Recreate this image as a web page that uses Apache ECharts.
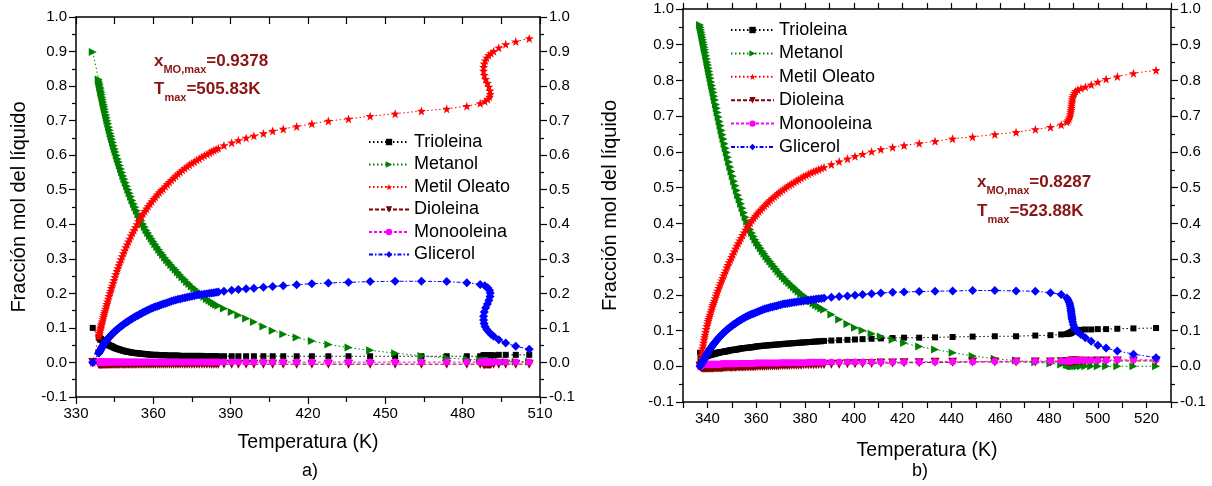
<!DOCTYPE html>
<html>
<head>
<meta charset="utf-8">
<script src="https://cdn.jsdelivr.net/npm/echarts@6/dist/echarts.min.js"></script>
<style>
  html, body { margin: 0; padding: 0; background: #ffffff; }
  #chart { width: 1212px; height: 486px; }
</style>
</head>
<body>
<div id="chart"></div>
<script>
// ---------- Panel a) : temperature path and liquid mole fractions ----------
const tempA = [
  336.5,
  338.8, 338.95, 339.1, 339.25, 339.4, 339.55, 339.7, 339.85, 340.0, 340.2,
  340.4, 340.6, 340.8, 341.0, 341.2, 341.45, 341.7, 341.95, 342.2, 342.5,
  342.8, 343.1, 343.4, 343.7, 344.0, 344.35, 344.7, 345.05, 345.4, 345.8,
  346.2, 346.6, 347.0, 347.45, 347.9, 348.35, 348.8, 349.3, 349.8, 350.3,
  350.8, 351.35, 351.9, 352.45, 353.0, 353.6, 354.2, 354.8, 355.4, 356.05,
  356.7, 357.35, 358.0, 358.7, 359.4, 360.1, 360.8, 361.55, 362.3, 363.05,
  363.8, 364.6, 365.4, 366.2, 367.0, 367.85, 368.7, 369.55, 370.4, 371.3,
  372.2, 373.1, 374.0, 374.95, 375.9, 376.85, 377.8, 378.8, 379.8, 380.8,
  381.8, 382.65, 383.5, 384.35, 385.2,
  387.4, 390.4, 393.0, 396.0, 399.0, 402.7, 406.3, 410.4, 415.6, 421.5,
  427.9, 435.7, 444.1, 453.8, 464.0, 473.8, 481.6, 486.8, 488.6, 489.7,
  490.4, 490.7, 490.6, 490.2, 489.6, 488.9, 488.4, 488.1, 488.1, 488.3,
  488.7, 489.3, 490.1, 491.0, 492.0, 494.0, 496.7, 500.6, 505.83
];
const trioleinaA = [
  0.100,
  0.073, 0.072, 0.071, 0.070, 0.069, 0.068, 0.067, 0.066, 0.065, 0.064,
  0.062, 0.061, 0.060, 0.059, 0.058, 0.057, 0.055, 0.054, 0.053, 0.052,
  0.050, 0.049, 0.048, 0.047, 0.046, 0.045, 0.043, 0.042, 0.041, 0.040,
  0.039, 0.038, 0.037, 0.036, 0.035, 0.034, 0.033, 0.032, 0.031, 0.031,
  0.030, 0.029, 0.028, 0.028, 0.027, 0.027, 0.026, 0.026, 0.025, 0.025,
  0.024, 0.024, 0.023, 0.023, 0.022, 0.022, 0.022, 0.022, 0.021, 0.021,
  0.021, 0.021, 0.020, 0.020, 0.020, 0.020, 0.020, 0.020, 0.019, 0.019,
  0.019, 0.019, 0.019, 0.019, 0.019, 0.019, 0.019, 0.019, 0.018, 0.018,
  0.018, 0.018, 0.018, 0.018, 0.018,
  0.018, 0.018, 0.018, 0.018, 0.018, 0.018, 0.018, 0.018, 0.018, 0.018,
  0.018, 0.018, 0.018, 0.018, 0.018, 0.018, 0.018, 0.018, 0.018, 0.018,
  0.019, 0.019, 0.019, 0.019, 0.020, 0.020, 0.020, 0.020, 0.020, 0.021,
  0.021, 0.021, 0.021, 0.021, 0.021, 0.022, 0.022, 0.022, 0.022
];
const metanolA = [
  0.899,
  0.819, 0.814, 0.808, 0.803, 0.797, 0.792, 0.786, 0.781, 0.775, 0.768,
  0.761, 0.754, 0.747, 0.740, 0.733, 0.725, 0.716, 0.708, 0.700, 0.691,
  0.681, 0.672, 0.663, 0.655, 0.646, 0.637, 0.627, 0.618, 0.609, 0.599,
  0.589, 0.580, 0.570, 0.560, 0.550, 0.540, 0.530, 0.520, 0.510, 0.500,
  0.490, 0.480, 0.469, 0.459, 0.449, 0.439, 0.428, 0.419, 0.410, 0.401,
  0.392, 0.383, 0.375, 0.366, 0.358, 0.350, 0.342, 0.334, 0.326, 0.318,
  0.311, 0.303, 0.296, 0.289, 0.282, 0.275, 0.268, 0.261, 0.254, 0.247,
  0.240, 0.233, 0.227, 0.220, 0.214, 0.208, 0.202, 0.196, 0.190, 0.184,
  0.179, 0.175, 0.171, 0.167, 0.164,
  0.156, 0.146, 0.137, 0.127, 0.117, 0.104, 0.092, 0.082, 0.072, 0.062,
  0.052, 0.043, 0.035, 0.027, 0.019, 0.013, 0.009, 0.007, 0.006, 0.006,
  0.006, 0.005, 0.005, 0.005, 0.005, 0.004, 0.004, 0.004, 0.004, 0.004,
  0.004, 0.003, 0.003, 0.003, 0.003, 0.003, 0.002, 0.002, 0.002
];
const metilOleatoA = [
  0.000,
  0.075, 0.080, 0.085, 0.090, 0.095, 0.100, 0.104, 0.109, 0.113, 0.119,
  0.125, 0.131, 0.137, 0.143, 0.148, 0.155, 0.162, 0.169, 0.176, 0.184,
  0.192, 0.200, 0.207, 0.215, 0.222, 0.230, 0.238, 0.247, 0.255, 0.264,
  0.272, 0.281, 0.289, 0.298, 0.307, 0.316, 0.324, 0.333, 0.341, 0.350,
  0.358, 0.367, 0.375, 0.383, 0.391, 0.400, 0.408, 0.416, 0.423, 0.431,
  0.438, 0.445, 0.452, 0.459, 0.466, 0.473, 0.479, 0.486, 0.492, 0.498,
  0.503, 0.510, 0.516, 0.522, 0.528, 0.534, 0.540, 0.546, 0.551, 0.557,
  0.562, 0.567, 0.572, 0.577, 0.581, 0.586, 0.590, 0.595, 0.599, 0.603,
  0.607, 0.611, 0.614, 0.617, 0.620,
  0.628, 0.636, 0.643, 0.650, 0.656, 0.663, 0.670, 0.676, 0.683, 0.691,
  0.699, 0.705, 0.713, 0.720, 0.728, 0.734, 0.742, 0.750, 0.756, 0.762,
  0.769, 0.777, 0.787, 0.798, 0.809, 0.820, 0.832, 0.844, 0.855, 0.865,
  0.874, 0.882, 0.889, 0.895, 0.901, 0.911, 0.921, 0.929, 0.9378
];
const dioleinaA = [
  0.000,
  -0.005, -0.005, -0.005, -0.005, -0.005, -0.005, -0.005, -0.005, -0.005, -0.005,
  -0.005, -0.005, -0.005, -0.005, -0.005, -0.005, -0.005, -0.005, -0.005, -0.005,
  -0.005, -0.005, -0.005, -0.005, -0.005, -0.005, -0.005, -0.005, -0.005, -0.005,
  -0.005, -0.005, -0.005, -0.005, -0.005, -0.005, -0.005, -0.005, -0.005, -0.005,
  -0.005, -0.005, -0.005, -0.005, -0.005, -0.005, -0.005, -0.005, -0.005, -0.005,
  -0.005, -0.005, -0.005, -0.005, -0.005, -0.005, -0.005, -0.005, -0.005, -0.005,
  -0.005, -0.005, -0.005, -0.005, -0.005, -0.005, -0.005, -0.005, -0.005, -0.005,
  -0.005, -0.005, -0.005, -0.005, -0.005, -0.005, -0.005, -0.005, -0.005, -0.005,
  -0.005, -0.005, -0.005, -0.005, -0.005,
  -0.005, -0.005, -0.005, -0.005, -0.005, -0.005, -0.005, -0.005, -0.005, -0.005,
  -0.005, -0.005, -0.005, -0.005, -0.005, -0.005, -0.005, -0.005, -0.005, -0.005,
  -0.005, -0.005, -0.005, -0.005, -0.005, -0.005, -0.005, -0.005, -0.005, -0.005,
  -0.005, -0.005, -0.005, -0.005, -0.005, -0.005, -0.005, -0.005, -0.005
];
const monooleinaA = [
  0.000,
  0.001, 0.001, 0.001, 0.001, 0.001, 0.001, 0.001, 0.001, 0.001, 0.001,
  0.001, 0.001, 0.001, 0.001, 0.001, 0.001, 0.001, 0.001, 0.001, 0.001,
  0.001, 0.001, 0.001, 0.001, 0.001, 0.001, 0.001, 0.001, 0.001, 0.001,
  0.001, 0.001, 0.001, 0.001, 0.001, 0.001, 0.001, 0.001, 0.001, 0.001,
  0.001, 0.001, 0.001, 0.001, 0.001, 0.001, 0.001, 0.001, 0.001, 0.001,
  0.001, 0.001, 0.001, 0.001, 0.001, 0.001, 0.001, 0.001, 0.001, 0.001,
  0.001, 0.001, 0.001, 0.001, 0.001, 0.001, 0.001, 0.001, 0.001, 0.001,
  0.001, 0.001, 0.001, 0.001, 0.001, 0.001, 0.001, 0.001, 0.001, 0.001,
  0.001, 0.001, 0.001, 0.001, 0.001,
  0.001, 0.001, 0.001, 0.001, 0.001, 0.001, 0.001, 0.001, 0.001, 0.001,
  0.001, 0.001, 0.001, 0.001, 0.001, 0.001, 0.001, 0.001, 0.001, 0.001,
  0.001, 0.001, 0.001, 0.001, 0.001, 0.001, 0.001, 0.001, 0.001, 0.001,
  0.001, 0.001, 0.001, 0.001, 0.001, 0.001, 0.001, 0.001, 0.001
];
const glicerolA = [
  0.000,
  0.027, 0.029, 0.031, 0.033, 0.035, 0.037, 0.039, 0.041, 0.043, 0.045,
  0.048, 0.050, 0.053, 0.055, 0.057, 0.060, 0.062, 0.065, 0.067, 0.070,
  0.072, 0.075, 0.077, 0.080, 0.082, 0.085, 0.087, 0.090, 0.092, 0.095,
  0.097, 0.100, 0.102, 0.105, 0.107, 0.110, 0.112, 0.115, 0.117, 0.120,
  0.122, 0.125, 0.127, 0.130, 0.132, 0.135, 0.137, 0.140, 0.142, 0.145,
  0.147, 0.150, 0.152, 0.155, 0.157, 0.159, 0.161, 0.163, 0.165, 0.167,
  0.169, 0.171, 0.173, 0.175, 0.177, 0.179, 0.181, 0.183, 0.184, 0.186,
  0.187, 0.189, 0.190, 0.192, 0.193, 0.195, 0.196, 0.197, 0.198, 0.199,
  0.200, 0.201, 0.202, 0.203, 0.204,
  0.206, 0.209, 0.211, 0.213, 0.215, 0.218, 0.220, 0.222, 0.225, 0.228,
  0.230, 0.232, 0.234, 0.235, 0.235, 0.234, 0.231, 0.226, 0.222, 0.216,
  0.209, 0.201, 0.191, 0.180, 0.169, 0.158, 0.146, 0.134, 0.123, 0.113,
  0.104, 0.096, 0.089, 0.082, 0.076, 0.066, 0.056, 0.047, 0.038
];

// ---------- Panel b) ----------
const tempB = [
  337.0,
  337.2, 337.4, 337.6, 337.8, 338.0, 338.2, 338.4, 338.6, 338.8, 339.0,
  339.25, 339.5, 339.75, 340.0, 340.25, 340.5, 340.75, 341.0, 341.3, 341.6,
  341.9, 342.2, 342.5, 342.8, 343.15, 343.5, 343.85, 344.2, 344.6, 345.0,
  345.4, 345.8, 346.2, 346.6, 347.05, 347.5, 347.95, 348.4, 348.9, 349.4,
  349.9, 350.4, 350.95, 351.5, 352.05, 352.6, 353.2, 353.8, 354.4, 355.0,
  355.65, 356.3, 356.95, 357.6, 358.3, 359.0, 359.7, 360.4, 361.15, 361.9,
  362.65, 363.4, 364.2, 365.0, 365.8, 366.6, 367.45, 368.3, 369.15, 370.0,
  370.9, 371.8, 372.7, 373.6, 374.55, 375.5, 376.45, 377.4, 378.4, 379.4,
  380.4, 381.4, 382.45, 383.5, 384.55, 385.6, 386.7, 387.8,
  390.8, 394.0, 397.4, 400.5, 403.6, 407.3, 411.1, 415.9, 420.6, 426.8,
  433.3, 440.5, 448.7, 457.8, 466.5, 474.4, 480.6, 485.0, 487.3, 487.8,
  488.2, 488.5, 488.7, 488.9, 489.0, 489.1, 489.2, 489.3, 489.4, 489.5,
  489.7, 490.0, 490.4, 490.9, 491.8, 493.1, 494.9, 497.3, 500.0, 503.4,
  508.0, 514.6, 523.88
];
const trioleinaB = [
  0.038,
  0.019, 0.020, 0.021, 0.022, 0.023, 0.024, 0.024, 0.025, 0.026, 0.027,
  0.027, 0.028, 0.029, 0.030, 0.030, 0.031, 0.031, 0.032, 0.032, 0.033,
  0.033, 0.034, 0.034, 0.035, 0.035, 0.036, 0.037, 0.038, 0.038, 0.039,
  0.039, 0.040, 0.040, 0.041, 0.041, 0.042, 0.042, 0.043, 0.044, 0.045,
  0.045, 0.046, 0.046, 0.047, 0.047, 0.048, 0.049, 0.050, 0.050, 0.051,
  0.051, 0.052, 0.052, 0.053, 0.053, 0.054, 0.055, 0.056, 0.056, 0.057,
  0.057, 0.058, 0.058, 0.059, 0.059, 0.060, 0.060, 0.061, 0.061, 0.062,
  0.062, 0.063, 0.063, 0.064, 0.064, 0.065, 0.065, 0.066, 0.066, 0.067,
  0.067, 0.068, 0.068, 0.069, 0.069, 0.070, 0.070, 0.071,
  0.072, 0.073, 0.074, 0.075, 0.076, 0.077, 0.078, 0.079, 0.080, 0.080,
  0.081, 0.082, 0.083, 0.084, 0.084, 0.086, 0.087, 0.089, 0.090, 0.091,
  0.092, 0.092, 0.093, 0.094, 0.094, 0.095, 0.095, 0.096, 0.096, 0.097,
  0.097, 0.098, 0.099, 0.100, 0.101, 0.102, 0.103, 0.103, 0.104, 0.104,
  0.105, 0.106, 0.107
];
const metanolB = [
  0.955,
  0.949, 0.942, 0.935, 0.928, 0.921, 0.914, 0.907, 0.900, 0.893, 0.886,
  0.878, 0.869, 0.860, 0.851, 0.843, 0.834, 0.825, 0.816, 0.806, 0.796,
  0.786, 0.776, 0.766, 0.756, 0.745, 0.733, 0.722, 0.710, 0.698, 0.685,
  0.673, 0.660, 0.648, 0.636, 0.623, 0.610, 0.598, 0.585, 0.572, 0.558,
  0.545, 0.532, 0.518, 0.505, 0.492, 0.479, 0.467, 0.455, 0.442, 0.430,
  0.417, 0.405, 0.394, 0.383, 0.373, 0.363, 0.354, 0.346, 0.338, 0.330,
  0.322, 0.315, 0.307, 0.300, 0.293, 0.286, 0.279, 0.272, 0.265, 0.258,
  0.251, 0.245, 0.239, 0.233, 0.227, 0.221, 0.215, 0.209, 0.203, 0.198,
  0.193, 0.188, 0.182, 0.176, 0.171, 0.167, 0.162, 0.158,
  0.145, 0.131, 0.118, 0.108, 0.100, 0.091, 0.083, 0.074, 0.065, 0.055,
  0.047, 0.038, 0.029, 0.021, 0.016, 0.011, 0.008, 0.005, 0.004, 0.004,
  0.003, 0.003, 0.003, 0.002, 0.002, 0.002, 0.002, 0.001, 0.001, 0.001,
  0.001, 0.001, 0.001, 0.000, 0.000, 0.000, 0.000, 0.000, 0.000, 0.000,
  0.000, 0.000, 0.000
];
const metilOleatoB = [
  0.000,
  0.011, 0.022, 0.032, 0.041, 0.050, 0.058, 0.066, 0.074, 0.081, 0.088,
  0.096, 0.104, 0.112, 0.119, 0.126, 0.132, 0.138, 0.144, 0.151, 0.158,
  0.165, 0.171, 0.177, 0.183, 0.190, 0.197, 0.204, 0.211, 0.219, 0.226,
  0.233, 0.240, 0.247, 0.254, 0.261, 0.268, 0.276, 0.283, 0.291, 0.298,
  0.306, 0.313, 0.321, 0.329, 0.337, 0.344, 0.352, 0.359, 0.367, 0.374,
  0.382, 0.389, 0.396, 0.402, 0.409, 0.415, 0.421, 0.427, 0.433, 0.438,
  0.444, 0.449, 0.455, 0.460, 0.465, 0.470, 0.475, 0.480, 0.485, 0.489,
  0.494, 0.498, 0.503, 0.507, 0.511, 0.515, 0.519, 0.523, 0.527, 0.531,
  0.535, 0.538, 0.542, 0.545, 0.548, 0.551, 0.554, 0.557,
  0.565, 0.573, 0.581, 0.588, 0.594, 0.601, 0.607, 0.613, 0.618, 0.624,
  0.630, 0.637, 0.642, 0.649, 0.655, 0.663, 0.669, 0.676, 0.684, 0.688,
  0.693, 0.699, 0.705, 0.711, 0.717, 0.723, 0.729, 0.735, 0.741, 0.747,
  0.753, 0.759, 0.765, 0.770, 0.774, 0.778, 0.782, 0.788, 0.796, 0.804,
  0.811, 0.820, 0.8287
];
const dioleinaB = [
  0.000,
  -0.002, -0.003, -0.004, -0.004, -0.005, -0.005, -0.005, -0.005, -0.005, -0.005,
  -0.005, -0.005, -0.005, -0.005, -0.005, -0.005, -0.005, -0.005, -0.005, -0.005,
  -0.005, -0.005, -0.005, -0.004, -0.004, -0.004, -0.004, -0.004, -0.004, -0.004,
  -0.004, -0.004, -0.004, -0.003, -0.003, -0.003, -0.003, -0.003, -0.003, -0.003,
  -0.003, -0.003, -0.003, -0.003, -0.002, -0.002, -0.002, -0.002, -0.002, -0.002,
  -0.002, -0.001, -0.001, -0.001, -0.001, -0.001, -0.001, 0.000, 0.000, 0.000,
  0.000, 0.000, 0.000, 0.001, 0.001, 0.001, 0.001, 0.001, 0.001, 0.002,
  0.002, 0.002, 0.002, 0.002, 0.003, 0.003, 0.003, 0.003, 0.003, 0.004,
  0.004, 0.004, 0.004, 0.004, 0.004, 0.005, 0.005, 0.005,
  0.006, 0.006, 0.007, 0.007, 0.008, 0.008, 0.009, 0.009, 0.010, 0.010,
  0.011, 0.011, 0.012, 0.012, 0.012, 0.012, 0.012, 0.013, 0.013, 0.013,
  0.013, 0.013, 0.013, 0.013, 0.013, 0.013, 0.013, 0.013, 0.014, 0.014,
  0.014, 0.014, 0.014, 0.014, 0.014, 0.014, 0.014, 0.014, 0.015, 0.015,
  0.015, 0.015, 0.015
];
const monooleinaB = [
  0.000,
  0.001, 0.002, 0.003, 0.003, 0.004, 0.004, 0.005, 0.005, 0.005, 0.005,
  0.005, 0.005, 0.006, 0.006, 0.006, 0.006, 0.006, 0.006, 0.006, 0.006,
  0.006, 0.006, 0.006, 0.006, 0.006, 0.006, 0.006, 0.006, 0.006, 0.006,
  0.006, 0.007, 0.007, 0.007, 0.007, 0.007, 0.007, 0.007, 0.007, 0.007,
  0.007, 0.007, 0.007, 0.007, 0.007, 0.008, 0.008, 0.008, 0.008, 0.008,
  0.008, 0.008, 0.008, 0.008, 0.008, 0.008, 0.009, 0.009, 0.009, 0.009,
  0.009, 0.009, 0.009, 0.009, 0.009, 0.009, 0.009, 0.009, 0.009, 0.010,
  0.010, 0.010, 0.010, 0.010, 0.010, 0.010, 0.010, 0.010, 0.010, 0.010,
  0.010, 0.011, 0.011, 0.011, 0.011, 0.011, 0.011, 0.011,
  0.011, 0.011, 0.012, 0.012, 0.012, 0.012, 0.012, 0.012, 0.012, 0.012,
  0.013, 0.013, 0.013, 0.014, 0.014, 0.014, 0.015, 0.015, 0.015, 0.015,
  0.015, 0.015, 0.015, 0.015, 0.015, 0.016, 0.016, 0.016, 0.016, 0.016,
  0.016, 0.016, 0.016, 0.016, 0.017, 0.017, 0.017, 0.017, 0.017, 0.017,
  0.018, 0.018, 0.018
];
const glicerolB = [
  0.000,
  0.002, 0.004, 0.007, 0.009, 0.012, 0.014, 0.017, 0.019, 0.022, 0.024,
  0.027, 0.030, 0.033, 0.036, 0.039, 0.042, 0.045, 0.047, 0.050, 0.053,
  0.056, 0.059, 0.062, 0.064, 0.067, 0.070, 0.073, 0.076, 0.079, 0.082,
  0.085, 0.088, 0.091, 0.093, 0.096, 0.099, 0.102, 0.104, 0.107, 0.110,
  0.113, 0.115, 0.118, 0.120, 0.123, 0.125, 0.128, 0.130, 0.133, 0.135,
  0.138, 0.140, 0.142, 0.144, 0.146, 0.148, 0.150, 0.152, 0.154, 0.156,
  0.158, 0.160, 0.162, 0.163, 0.165, 0.166, 0.168, 0.169, 0.171, 0.172,
  0.174, 0.175, 0.176, 0.177, 0.178, 0.179, 0.180, 0.181, 0.182, 0.183,
  0.184, 0.185, 0.186, 0.187, 0.188, 0.189, 0.190, 0.191,
  0.193, 0.195, 0.197, 0.199, 0.201, 0.203, 0.205, 0.207, 0.208, 0.209,
  0.210, 0.211, 0.212, 0.212, 0.211, 0.210, 0.206, 0.201, 0.191, 0.186,
  0.180, 0.174, 0.168, 0.162, 0.157, 0.152, 0.146, 0.141, 0.136, 0.131,
  0.124, 0.116, 0.109, 0.103, 0.096, 0.089, 0.080, 0.070, 0.059, 0.051,
  0.043, 0.034, 0.024
];

const componentNames = ['Trioleina', 'Metanol', 'Metil Oleato', 'Dioleina', 'Monooleina', 'Glicerol'];
const yTicks = { min: -0.1, max: 1.0, step: 0.1 };
const xTicksA = { min: 330, max: 510, step: 30 };
const xTicksB = { min: 330, max: 530, step: 10, labelStep: 20 };
const notesA = ['0.9378', '505.83K'];
const notesB = ['0.8287', '523.88K'];

// ---------- drawing ----------
const FONT = '"Liberation Sans", Arial, Helvetica, sans-serif';
const NOTE_RED = '#8a1414';
const STAR = 'path://M0,-10L2.35,-3.24L9.51,-3.09L3.8,1.24L5.88,8.09L0,4L-5.88,8.09L-3.8,1.24L-9.51,-3.09L-2.35,-3.24Z';

const looks = {
  'Trioleina':    { color: '#000000', symbol: 'rect',     size: 6, rotate: 0,   dash: [1.5, 2.5] },
  'Metanol':      { color: '#008000', symbol: 'triangle', size: 8, rotate: -90, dash: [1.5, 2.5] },
  'Metil Oleato': { color: '#ff0000', symbol: STAR,       size: 9, rotate: 0,   dash: [1.5, 2.5] },
  'Dioleina':     { color: '#800000', symbol: 'triangle', size: 9, rotate: 180, dash: [4, 2] },
  'Monooleina':   { color: '#ff00ff', symbol: 'circle',   size: 7, rotate: 0,   dash: [3, 2] },
  'Glicerol':     { color: '#0000ff', symbol: 'diamond',  size: 9, rotate: 0,   dash: [4, 2, 1.5, 2] }
};

function buildSeries(name, temps, values, axisIdx) {
  const lk = looks[name];
  const pts = [];
  temps.forEach((t, i) => { if (values[i] !== undefined) pts.push([t, values[i]]); });
  return {
    type: 'line',
    name: name,
    xAxisIndex: axisIdx,
    yAxisIndex: axisIdx,
    data: pts,
    symbol: lk.symbol,
    symbolSize: lk.size,
    symbolRotate: lk.rotate,
    showSymbol: true,
    lineStyle: { color: lk.color, width: 1, type: lk.dash },
    itemStyle: { color: lk.color },
    emphasis: { disabled: true },
    animation: false
  };
}

const seriesA = {
  'Trioleina': trioleinaA, 'Metanol': metanolA, 'Metil Oleato': metilOleatoA,
  'Dioleina': dioleinaA, 'Monooleina': monooleinaA, 'Glicerol': glicerolA
};
const seriesB = {
  'Trioleina': trioleinaB, 'Metanol': metanolB, 'Metil Oleato': metilOleatoB,
  'Dioleina': dioleinaB, 'Monooleina': monooleinaB, 'Glicerol': glicerolB
};

const series = [];
componentNames.forEach(n => series.push(buildSeries(n, tempA, seriesA[n], 0)));
componentNames.forEach(n => series.push(buildSeries(n, tempB, seriesB[n], 2)));

const axisLine = { show: true, onZero: false, lineStyle: { color: '#000', width: 1.5 } };
const labelStyle = { color: '#000', fontSize: 15, fontFamily: FONT };
const fmtY = v => (Math.round(v * 10) / 10).toFixed(1);

function yAxisPair(gridIdx) {
  const base = {
    type: 'value', gridIndex: gridIdx,
    min: yTicks.min, max: yTicks.max, interval: yTicks.step,
    axisLine: axisLine,
    axisTick: { show: true, inside: false, length: 7, lineStyle: { color: '#000', width: 1.2 } },
    minorTick: { show: true, splitNumber: 2, length: 4, lineStyle: { color: '#000', width: 1.2 } },
    splitLine: { show: false },
    axisLabel: Object.assign({ formatter: fmtY, margin: 9 }, labelStyle)
  };
  return [
    Object.assign({}, base, {
      position: 'left',
      name: 'Fracción mol del líquido',
      nameLocation: 'middle',
      nameGap: gridIdx === 0 ? 47 : 63,
      nameTextStyle: { color: '#000', fontSize: 20, fontFamily: FONT }
    }),
    Object.assign({}, base, { position: 'right' })
  ];
}

const xAxis = [
  {
    type: 'value', gridIndex: 0, position: 'bottom',
    min: xTicksA.min, max: xTicksA.max, interval: xTicksA.step,
    axisLine: axisLine,
    axisTick: { show: true, length: 7, lineStyle: { color: '#000', width: 1.2 } },
    minorTick: { show: true, splitNumber: 2, length: 5, lineStyle: { color: '#000', width: 1.2 } },
    splitLine: { show: false },
    axisLabel: Object.assign({ margin: 9 }, labelStyle),
    name: 'Temperatura (K)', nameLocation: 'middle', nameGap: 36,
    nameTextStyle: { color: '#000', fontSize: 19.5, fontFamily: FONT }
  },
  {
    type: 'value', gridIndex: 0, position: 'top',
    min: xTicksA.min, max: xTicksA.max, interval: xTicksA.step / 2,
    axisLine: axisLine,
    axisTick: { show: true, inside: true, length: 7, lineStyle: { color: '#000', width: 1.2 } },
    splitLine: { show: false },
    axisLabel: { show: false }
  },
  {
    type: 'value', gridIndex: 1, position: 'bottom',
    min: xTicksB.min, max: xTicksB.max, interval: xTicksB.step,
    axisLine: axisLine,
    axisTick: { show: true, length: 6, lineStyle: { color: '#000', width: 1.2 } },
    splitLine: { show: false },
    axisLabel: Object.assign({
      margin: 9,
      formatter: v => (v > xTicksB.min && v < xTicksB.max && Math.round(v - xTicksB.min - xTicksB.step) % xTicksB.labelStep === 0) ? String(Math.round(v)) : ''
    }, labelStyle),
    name: 'Temperatura (K)', nameLocation: 'middle', nameGap: 39,
    nameTextStyle: { color: '#000', fontSize: 19.5, fontFamily: FONT }
  },
  {
    type: 'value', gridIndex: 1, position: 'top',
    min: xTicksB.min, max: xTicksB.max, interval: xTicksB.step,
    axisLine: axisLine,
    axisTick: { show: true, inside: false, length: 6, lineStyle: { color: '#000', width: 1.2 } },
    splitLine: { show: false },
    axisLabel: { show: false }
  }
];

const yAxis = yAxisPair(0).concat(yAxisPair(1));

function legendAt(left, top, gap, width) {
  return {
    orient: 'vertical', left: left, top: top,
    itemWidth: width, itemHeight: 8, itemGap: gap,
    data: componentNames,
    selectedMode: false,
    textStyle: { color: '#000', fontSize: 18, fontFamily: FONT, lineHeight: 18 }
  };
}

function noteTitle(left, top, sub, value) {
  return {
    text: '{b|' + (sub === 'MO,max' ? 'x' : 'T') + '}{s|' + sub + '}{b|=' + value + '}',
    left: left, top: top, padding: 0,
    textStyle: {
      rich: {
        b: { fontSize: 17, fontWeight: 'bold', color: NOTE_RED, fontFamily: FONT },
        s: { fontSize: 11, fontWeight: 'bold', color: NOTE_RED, fontFamily: FONT, padding: [16, 0, 0, 0] }
      }
    }
  };
}

const option = {
  backgroundColor: '#ffffff',
  animation: false,
  grid: [
    { left: 76, top: 17, width: 464, height: 380 },
    { left: 683, top: 9, width: 488, height: 393 }
  ],
  xAxis: xAxis,
  yAxis: yAxis,
  legend: [legendAt(363, 128, 4.5, 40), legendAt(725, 16, 5.4, 43)],
  title: [
    noteTitle(154, 48, 'MO,max', notesA[0]),
    noteTitle(154, 76, 'max', notesA[1]),
    noteTitle(977, 169, 'MO,max', notesB[0]),
    noteTitle(977, 198, 'max', notesB[1]),
    { text: 'a)', left: 302, top: 462, padding: 0, textStyle: { fontSize: 18, fontWeight: 'normal', color: '#000', fontFamily: FONT } },
    { text: 'b)', left: 912, top: 462, padding: 0, textStyle: { fontSize: 18, fontWeight: 'normal', color: '#000', fontFamily: FONT } }
  ],
  series: series
};

const chart = echarts.init(document.getElementById('chart'), null, { renderer: 'canvas' });
chart.setOption(option);
</script>
</body>
</html>
